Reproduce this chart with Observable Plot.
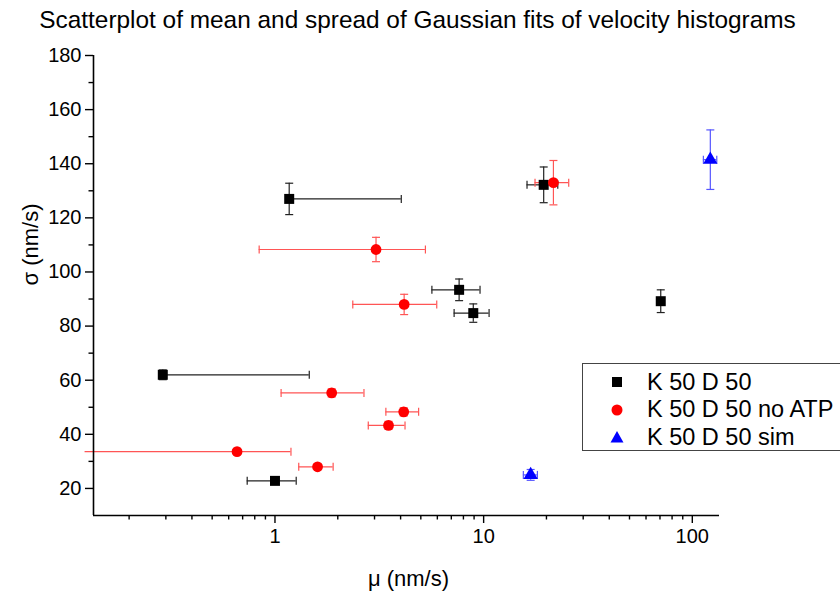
<!DOCTYPE html>
<html>
<head>
<meta charset="utf-8">
<script src="https://cdn.jsdelivr.net/npm/d3@7"></script>
<script src="https://cdn.jsdelivr.net/npm/@observablehq/plot@0.6"></script>
<style>
  html, body { margin: 0; padding: 0; background: white; }
  #wrap { position: relative; width: 840px; height: 592px; font-family: "Liberation Sans", Arial, sans-serif; }
  #legend { position: absolute; left: 582px; top: 363px; width: 258px; height: 88px; box-sizing: border-box;
    border: 1px solid #444; border-right: none; background: white; }
  .row { position: absolute; left: 0; height: 28px; display: flex; align-items: center; font-size: 23.5px; color: #000; }
  .row svg { margin-left: 27px; margin-right: 23px; }
</style>
</head>
<body>
<div id="wrap"></div>
<script>
// ---- data ----
const seriesNames = ["K 50 D 50", "K 50 D 50 no ATP", "K 50 D 50 sim"];
const seriesColors = ["#000000", "#ff0000", "#0000ff"];
const seriesBarColors = ["#222222", "#ff5555", "#5555ff"];
const seriesSymbols = ["square", "circle", "triangle"];

// K 50 D 50
const muK     = [1.17, 0.29, 7.63, 8.92, 19.4, 70.6, 1.0];
const sigK    = [127.0, 62.0, 93.4, 84.8, 132.2, 89.2, 22.8];
const muErrK  = [2.86, 1.17, 1.98, 1.70, 3.26, 2.0, 0.264];
const sigErrK = [5.8, 1.8, 4.0, 3.4, 6.6, 4.2, 1.0];

// K 50 D 50 no ATP
const muR     = [3.05, 4.16, 21.6, 1.87, 4.14, 3.50, 0.658, 1.60];
const sigR    = [108.3, 88.0, 133.0, 55.3, 48.3, 43.3, 33.6, 28.0];
const muErrR  = [2.21, 1.80, 3.97, 0.80, 0.74, 0.70, 0.535, 0.30];
const sigErrR = [4.5, 3.75, 8.2, 1.5, 1.5, 1.5, 1.0, 1.0];

// K 50 D 50 sim
const muB     = [122, 16.8];
const sigB    = [141.5, 25.0];
const muErrB  = [9, 1.3];
const sigErrB = [11, 2];

const xMajor = [1, 10, 100];
const xMinor = [0.2, 0.3, 0.4, 0.5, 0.6, 0.7, 0.8, 0.9, 2, 3, 4, 5, 6, 7, 8, 9, 20, 30, 40, 50, 60, 70, 80, 90];
const yMajor = [20, 40, 60, 80, 100, 120, 140, 160, 180];
const yMinor = [30, 50, 70, 90, 110, 130, 150, 170];
const xDomain = [0.135, 135];
const yDomain = [10, 180];

const titleText = "Scatterplot of mean and spread of Gaussian fits of velocity histograms";
const xLabel = "\u03bc (nm/s)";
const yLabel = "\u03c3 (nm/s)";

// ---- build table ----
function rows(s, mu, sig, muErr, sigErr) {
  return mu.map((m, i) => ({series: s, mu: m, sigma: sig[i], muErr: muErr[i], sigErr: sigErr[i]}));
}
const data = [
  ...rows(0, muK, sigK, muErrK, sigErrK),
  ...rows(1, muR, sigR, muErrR, sigErrR),
  ...rows(2, muB, sigB, muErrB, sigErrB)
];
data.forEach(d => {
  d.lo = d.mu - d.muErr > 0 ? d.mu - d.muErr : d.mu;
  d.hasLo = d.mu - d.muErr > xDomain[0];
  d.hi = d.mu + d.muErr;
});

const hcap = {draw(ctx, size) { const r = Math.sqrt(size / Math.PI); ctx.moveTo(-r, 0); ctx.lineTo(r, 0); }};
const vcap = {draw(ctx, size) { const r = Math.sqrt(size / Math.PI); ctx.moveTo(0, -r); ctx.lineTo(0, r); }};

const barColor = d => seriesBarColors[d.series];
const sizes = [5.64, 5.4, 5.3];

const marks = [];
// error bars
marks.push(Plot.ruleY(data, {y: "sigma", x1: "lo", x2: "hi", stroke: barColor, strokeWidth: 1.2}));
marks.push(Plot.ruleX(data, {x: "mu", y1: d => d.sigma - d.sigErr, y2: d => d.sigma + d.sigErr, stroke: barColor, strokeWidth: 1.2}));
// caps
marks.push(Plot.dot(data, {x: "hi", y: "sigma", symbol: vcap, r: 4, stroke: barColor, strokeWidth: 1.2, fill: "none"}));
marks.push(Plot.dot(data.filter(d => d.hasLo), {x: "lo", y: "sigma", symbol: vcap, r: 4, stroke: barColor, strokeWidth: 1.2, fill: "none"}));
marks.push(Plot.dot(data, {x: "mu", y: d => d.sigma + d.sigErr, symbol: hcap, r: 4, stroke: barColor, strokeWidth: 1.2, fill: "none"}));
marks.push(Plot.dot(data, {x: "mu", y: d => d.sigma - d.sigErr, symbol: hcap, r: 4, stroke: barColor, strokeWidth: 1.2, fill: "none"}));
// symbols
for (let s = 0; s < 3; s++) {
  marks.push(Plot.dot(data.filter(d => d.series === s), {x: "mu", y: "sigma", symbol: seriesSymbols[s], r: sizes[s], fill: seriesColors[s], stroke: "none"}));
}
// axes
marks.push(Plot.ruleY([yDomain[0]], {stroke: "#000", strokeWidth: 1.6}));
marks.push(Plot.ruleX([xDomain[0]], {stroke: "#000", strokeWidth: 1.6}));
marks.push(Plot.axisX(xMajor, {tickSize: 8, tickPadding: 5, tickFormat: d => String(d), label: null, fontSize: 20, strokeWidth: 1.4}));
marks.push(Plot.axisX(xMinor, {tickSize: 4.5, tickFormat: () => "", label: null, strokeWidth: 1.4}));
marks.push(Plot.axisY(yMajor, {tickSize: 8, tickPadding: 4, tickFormat: d => String(d), label: null, fontSize: 20, strokeWidth: 1.4}));
marks.push(Plot.axisY(yMinor, {tickSize: 4.5, tickFormat: () => "", label: null, strokeWidth: 1.4}));
// labels and title
marks.push(Plot.text([yLabel], {frameAnchor: "left", rotate: -90, dx: -63, fontSize: 22, fill: "#000"}));
marks.push(Plot.text([xLabel], {frameAnchor: "bottom", lineAnchor: "middle", dy: 63, dx: 2, fontSize: 22, fill: "#000"}));
marks.push(Plot.text([titleText], {frameAnchor: "top", lineAnchor: "middle", dy: -35, dx: 11, fontSize: 24.4, fill: "#000"}));

const chart = Plot.plot({
  width: 840,
  height: 592,
  marginLeft: 93,
  marginRight: 121,
  marginTop: 55,
  marginBottom: 77,
  x: {type: "log", domain: xDomain},
  y: {domain: yDomain},
  style: {fontFamily: "'Liberation Sans', Arial, sans-serif", fontSize: "17px", color: "#000", background: "white", overflow: "visible"},
  marks
});

const wrap = document.getElementById("wrap");
wrap.appendChild(chart);

// legend
const legend = document.createElement("div");
legend.id = "legend";
const symSvg = {
  square: '<svg width="14" height="14"><rect x="2" y="2" width="10" height="10" fill="#000"/></svg>',
  circle: '<svg width="14" height="14"><circle cx="7" cy="7" r="5.5" fill="#ff0000"/></svg>',
  triangle: '<svg width="14" height="14"><polygon points="7,1 13.5,12.5 0.5,12.5" fill="#0000ff"/></svg>'
};
seriesNames.forEach((name, i) => {
  const row = document.createElement("div");
  row.className = "row";
  row.style.top = (4 + i * 27.7) + "px";
  row.innerHTML = symSvg[seriesSymbols[i]] + "<span>" + name + "</span>";
  legend.appendChild(row);
});
wrap.appendChild(legend);
</script>
</body>
</html>
